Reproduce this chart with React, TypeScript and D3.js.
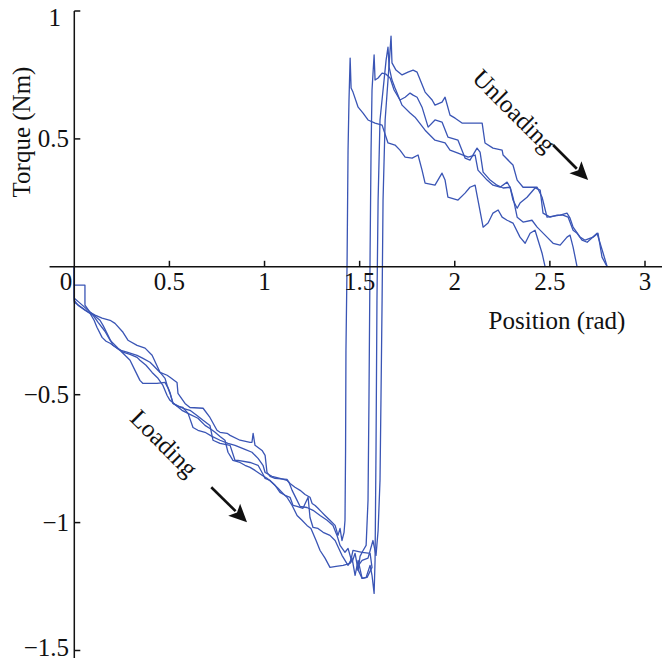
import React from "react";
import * as d3 from "d3";

type P = [number, number];

// Position (rad), Torque (Nm) for four loading/unloading cycles
const cycleA: P[] = [
  [0, 0], [0, -0.131], [0.019, -0.15], [0.056, -0.17], [0.083, -0.182], [0.104, -0.209], [0.119, -0.236],
  [0.146, -0.276], [0.167, -0.291], [0.188, -0.299], [0.24, -0.326], [0.272, -0.35], [0.293, -0.365],
  [0.319, -0.405], [0.345, -0.444], [0.361, -0.456], [0.398, -0.456], [0.435, -0.456], [0.477, -0.452],
  [0.493, -0.475], [0.503, -0.495], [0.519, -0.534], [0.545, -0.546], [0.571, -0.55], [0.598, -0.573],
  [0.624, -0.628], [0.65, -0.639], [0.687, -0.647], [0.724, -0.663], [0.766, -0.678], [0.808, -0.69],
  [0.845, -0.698], [0.871, -0.706], [0.897, -0.714], [0.934, -0.725], [0.966, -0.749], [0.992, -0.776],
  [1.003, -0.804], [1.039, -0.819], [1.081, -0.827], [1.118, -0.835], [1.134, -0.847], [1.16, -0.862],
  [1.187, -0.874], [1.213, -0.89], [1.239, -0.901], [1.25, -0.925], [1.266, -0.933], [1.281, -0.944],
  [1.302, -0.96], [1.318, -0.972], [1.344, -0.991], [1.371, -1.011], [1.386, -1.05], [1.397, -1.023],
  [1.407, -1.07], [1.418, -1.038], [1.423, -0.991], [1.426, -0.718], [1.428, -0.326], [1.434, 0.026],
  [1.439, 0.456], [1.444, 0.652], [1.45, 0.816], [1.455, 0.699], [1.465, 0.683], [1.492, 0.624],
  [1.518, 0.601], [1.544, 0.574], [1.581, 0.562], [1.618, 0.554], [1.649, 0.484], [1.686, 0.476],
  [1.712, 0.456], [1.739, 0.429], [1.776, 0.425], [1.807, 0.437], [1.828, 0.378], [1.844, 0.327],
  [1.896, 0.319], [1.933, 0.366], [1.949, 0.339], [1.964, 0.272], [2.017, 0.261], [2.054, 0.288],
  [2.08, 0.311], [2.107, 0.319], [2.122, 0.261], [2.149, 0.155], [2.175, 0.171], [2.201, 0.21],
  [2.228, 0.222], [2.249, 0.194], [2.275, 0.182], [2.306, 0.171], [2.343, 0.116], [2.37, 0.092],
  [2.396, 0.131], [2.422, 0.143], [2.438, 0.104], [2.459, 0.053], [2.475, 0],
];

const cycleB: P[] = [
  [0, 0], [0, -0.072], [0.056, -0.072], [0.056, -0.15], [0.083, -0.178], [0.109, -0.189], [0.146, -0.201],
  [0.188, -0.209], [0.214, -0.221], [0.256, -0.256], [0.282, -0.287], [0.33, -0.307], [0.372, -0.318],
  [0.409, -0.346], [0.451, -0.413], [0.488, -0.424], [0.503, -0.432], [0.54, -0.452], [0.545, -0.495],
  [0.582, -0.534], [0.608, -0.55], [0.677, -0.553], [0.713, -0.589], [0.75, -0.639], [0.766, -0.647],
  [0.803, -0.651], [0.819, -0.659], [0.871, -0.678], [0.924, -0.686], [0.934, -0.686], [0.94, -0.651],
  [0.95, -0.698], [0.987, -0.718], [1.003, -0.737], [1.013, -0.804], [1.029, -0.819], [1.055, -0.827],
  [1.118, -0.831], [1.129, -0.843], [1.145, -0.874], [1.171, -0.913], [1.187, -0.937], [1.223, -0.941],
  [1.255, -0.952], [1.292, -0.972], [1.329, -0.991], [1.36, -1.011], [1.381, -1.05], [1.397, -1.089],
  [1.423, -1.116], [1.439, -1.101], [1.46, -1.155], [1.476, -1.12], [1.492, -1.187], [1.502, -1.132],
  [1.518, -1.109], [1.534, -1.089], [1.544, -0.913], [1.549, -0.522], [1.555, 0.065], [1.56, 0.456],
  [1.565, 0.691], [1.576, 0.828], [1.581, 0.73], [1.597, 0.738], [1.618, 0.757], [1.639, 0.753],
  [1.66, 0.738], [1.681, 0.691], [1.712, 0.652], [1.739, 0.663], [1.765, 0.679], [1.781, 0.671],
  [1.802, 0.663], [1.828, 0.624], [1.86, 0.546], [1.896, 0.574], [1.933, 0.566], [1.964, 0.507],
  [2.017, 0.495], [2.054, 0.425], [2.08, 0.417], [2.117, 0.464], [2.133, 0.448], [2.149, 0.37],
  [2.186, 0.339], [2.222, 0.319], [2.254, 0.308], [2.291, 0.311], [2.306, 0.261], [2.328, 0.229],
  [2.343, 0.249], [2.38, 0.272], [2.422, 0.308], [2.449, 0.3], [2.464, 0.21], [2.501, 0.194],
  [2.538, 0.202], [2.569, 0.202], [2.596, 0.194], [2.622, 0.143], [2.643, 0.131], [2.669, 0.104],
  [2.696, 0.096], [2.748, 0.131], [2.78, 0.053], [2.801, 0],
];

const cycleC: P[] = [
  [0, 0], [0, -0.123], [0.03, -0.142], [0.072, -0.17], [0.098, -0.186], [0.135, -0.209], [0.151, -0.229],
  [0.172, -0.26], [0.203, -0.307], [0.24, -0.326], [0.277, -0.334], [0.33, -0.346], [0.361, -0.358],
  [0.398, -0.373], [0.414, -0.385], [0.451, -0.413], [0.477, -0.436], [0.488, -0.464], [0.503, -0.491],
  [0.519, -0.534], [0.571, -0.553], [0.608, -0.561], [0.645, -0.581], [0.677, -0.6], [0.713, -0.62],
  [0.729, -0.678], [0.766, -0.69], [0.819, -0.698], [0.845, -0.757], [0.861, -0.757], [0.924, -0.765],
  [0.966, -0.776], [0.987, -0.804], [1.003, -0.827], [1.029, -0.835], [1.055, -0.854], [1.081, -0.882],
  [1.108, -0.893], [1.134, -0.901], [1.15, -0.933], [1.171, -0.937], [1.202, -0.944], [1.229, -0.901],
  [1.239, -0.98], [1.255, -1.019], [1.281, -1.023], [1.308, -1.038], [1.344, -1.05], [1.371, -1.07],
  [1.407, -1.128], [1.439, -1.167], [1.46, -1.139], [1.476, -1.206], [1.492, -1.148], [1.513, -1.218],
  [1.534, -1.214], [1.555, -1.167], [1.565, -1.206], [1.576, -1.277], [1.581, -1.148], [1.586, -0.718],
  [1.591, -0.131], [1.597, 0.261], [1.607, 0.574], [1.639, 0.808], [1.649, 0.859], [1.655, 0.781],
  [1.67, 0.73], [1.686, 0.699], [1.723, 0.632], [1.765, 0.601], [1.791, 0.585], [1.844, 0.534],
  [1.896, 0.495], [1.949, 0.484], [1.975, 0.456], [2.017, 0.444], [2.07, 0.429], [2.107, 0.437],
  [2.122, 0.378], [2.17, 0.339], [2.201, 0.319], [2.238, 0.311], [2.275, 0.331], [2.291, 0.311],
  [2.306, 0.272], [2.328, 0.194], [2.359, 0.175], [2.406, 0.182], [2.433, 0.155], [2.485, 0.116],
  [2.517, 0.092], [2.554, 0.085], [2.59, 0.116], [2.606, 0.124], [2.622, 0.077], [2.643, 0],
];

const cycleD: P[] = [
  [0, 0], [0, -0.138], [0.03, -0.154], [0.067, -0.174], [0.098, -0.189], [0.125, -0.217], [0.161, -0.252],
  [0.188, -0.287], [0.23, -0.318], [0.256, -0.334], [0.293, -0.342], [0.33, -0.354], [0.345, -0.365],
  [0.377, -0.385], [0.409, -0.413], [0.44, -0.436], [0.466, -0.464], [0.488, -0.503], [0.503, -0.522],
  [0.529, -0.538], [0.566, -0.561], [0.608, -0.577], [0.65, -0.592], [0.687, -0.62], [0.713, -0.632],
  [0.74, -0.647], [0.766, -0.663], [0.792, -0.678], [0.808, -0.725], [0.834, -0.757], [0.871, -0.765],
  [0.897, -0.776], [0.924, -0.784], [0.95, -0.796], [0.987, -0.815], [1.013, -0.827], [1.039, -0.843],
  [1.071, -0.866], [1.097, -0.886], [1.118, -0.901], [1.145, -0.933], [1.171, -0.972], [1.197, -0.991],
  [1.223, -1.011], [1.244, -1.023], [1.271, -1.07], [1.292, -1.109], [1.318, -1.139], [1.344, -1.175],
  [1.376, -1.171], [1.413, -1.167], [1.45, -1.159], [1.465, -1.109], [1.513, -1.116], [1.555, -1.12],
  [1.565, -1.175], [1.539, -1.214], [1.513, -1.218], [1.486, -1.175], [1.513, -1.148], [1.544, -1.139],
  [1.57, -1.07], [1.586, -1.128], [1.597, -1.031], [1.607, -0.835], [1.612, -0.522], [1.618, -0.131],
  [1.623, 0.261], [1.634, 0.574], [1.649, 0.73], [1.66, 0.847], [1.665, 0.902], [1.67, 0.797],
  [1.691, 0.769], [1.723, 0.75], [1.754, 0.761], [1.781, 0.769], [1.802, 0.761], [1.844, 0.683],
  [1.881, 0.652], [1.896, 0.632], [1.933, 0.644], [1.949, 0.663], [1.975, 0.593], [2.002, 0.581],
  [2.038, 0.562], [2.08, 0.562], [2.144, 0.562], [2.159, 0.484], [2.201, 0.464], [2.249, 0.456],
  [2.254, 0.437], [2.291, 0.409], [2.306, 0.398], [2.328, 0.339], [2.359, 0.311], [2.433, 0.311],
  [2.459, 0.272], [2.485, 0.194], [2.554, 0.202], [2.59, 0.21], [2.606, 0.19], [2.622, 0.155],
  [2.659, 0.116], [2.685, 0.104], [2.727, 0.116], [2.753, 0.131], [2.774, 0.038], [2.801, 0],
];

const cycles: P[][] = [cycleA, cycleB, cycleC, cycleD];

const xTicks = [0.5, 1, 1.5, 2, 2.5, 3];
const xTickLabels = ["0.5", "1", "1.5", "2", "2.5", "3"];
const yTicks = [1, 0.5, -0.5, -1, -1.5];
const yTickLabels = ["1", "0.5", "\u22120.5", "\u22121", "\u22121.5"];

const W = 662;
const H = 660;
const FONT = "'Liberation Serif', 'Times New Roman', serif";
const LINE = "#3a55b5";

export default function App() {
  const x = d3.scaleLinear().domain([0, 3]).range([74.3, 645]);
  const y = d3.scaleLinear().domain([-1.5, 1]).range([650.5, 11]);
  const line = d3
    .line<P>()
    .x((d) => x(d[0]))
    .y((d) => y(d[1]));

  const arrow = (x0: number, y0: number, x1: number, y1: number) => {
    const ax = x(x0), ay = y(y0), bx = x(x1), by = y(y1);
    const ang = Math.atan2(by - ay, bx - ax);
    const hl = 18, hw = 8.5;
    const cx = bx - hl * Math.cos(ang), cy = by - hl * Math.sin(ang);
    const p1 = [cx + hw * Math.sin(ang), cy - hw * Math.cos(ang)];
    const p2 = [cx - hw * Math.sin(ang), cy + hw * Math.cos(ang)];
    return (
      <g>
        <line x1={ax} y1={ay} x2={cx + 2 * Math.cos(ang)} y2={cy + 2 * Math.sin(ang)} stroke="#111" strokeWidth={2.6} />
        <polygon points={`${bx},${by} ${p1[0]},${p1[1]} ${cx + 4 * Math.cos(ang)},${cy + 4 * Math.sin(ang)} ${p2[0]},${p2[1]}`} fill="#111" />
      </g>
    );
  };

  const y0 = y(0);
  const x0 = x(0);

  return (
    <svg
      width={W}
      height={H}
      style={{ position: "absolute", left: 0, top: 0, background: "#fff" }}
      fontFamily={FONT}
    >
      <rect x={0} y={0} width={W} height={H} fill="#fff" />
      {cycles.map((c, i) => (
        <path key={i} d={line(c) || ""} fill="none" stroke={LINE} strokeWidth={1.3} strokeLinejoin="round" />
      ))}
      {/* axes */}
      <line x1={x(-0.13)} x2={662} y1={y0} y2={y0} stroke="#111" strokeWidth={1.5} />
      <line x1={x0} x2={x0} y1={y(1)} y2={658} stroke="#111" strokeWidth={1.5} />
      {xTicks.map((t, i) => (
        <g key={"xt" + i}>
          <line x1={x(t)} x2={x(t)} y1={y0} y2={y0 - 6} stroke="#111" strokeWidth={1.5} />
          <text x={x(t)} y={290} fontSize={25} textAnchor="middle" fill="#111">
            {xTickLabels[i]}
          </text>
        </g>
      ))}
      <text x={x0 - 2} y={290} fontSize={25} textAnchor="end" fill="#111">0</text>
      {yTicks.map((t, i) => {
        const top = i === 0;
        const by = Math.max(26, Math.min(656, y(t) + 8.5));
        return (
          <g key={"yt" + i}>
            <line x1={x0} x2={x0 + 6} y1={y(t)} y2={y(t)} stroke="#111" strokeWidth={1.5} />
            <text x={top ? 61 : 69} y={by} fontSize={25} textAnchor="end" fill="#111">
              {yTickLabels[i]}
            </text>
          </g>
        );
      })}
      <text x={557} y={329} fontSize={25} textAnchor="middle" fill="#111">
        Position (rad)
      </text>
      <text transform={`translate(30,132) rotate(-90)`} fontSize={25} textAnchor="middle" fill="#111">
        Torque (Nm)
      </text>
      {/* annotations */}
      <text
        transform={`translate(${x(0.472)},${y(-0.69)}) rotate(45)`}
        dy="0.33em"
        fontSize={25}
        textAnchor="middle"
        fill="#111"
      >
        Loading
      </text>
      {arrow(0.72, -0.862, 0.908, -0.999)}
      <text
        transform={`translate(${x(2.312)},${y(0.609)}) rotate(45)`}
        dy="0.33em"
        fontSize={25}
        textAnchor="middle"
        fill="#111"
      >
        Unloading
      </text>
      {arrow(2.517, 0.476, 2.701, 0.339)}
    </svg>
  );
}
